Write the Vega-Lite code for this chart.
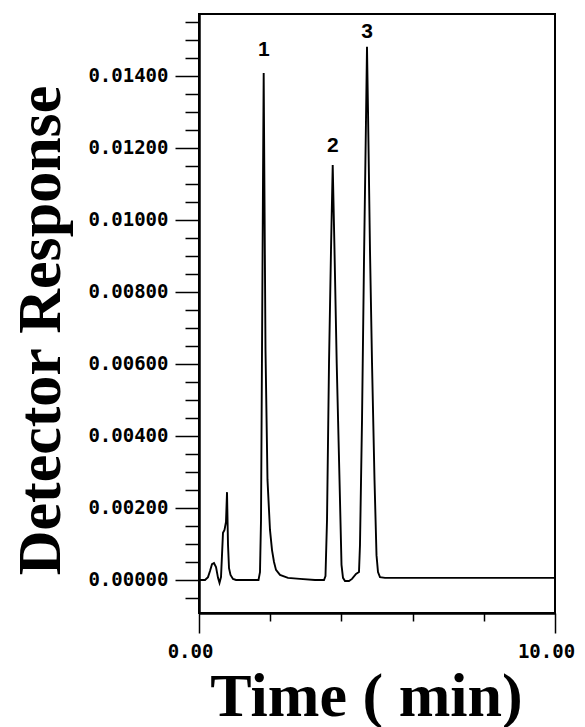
{
  "$schema": "https://vega.github.io/schema/vega-lite/v6.json",
  "autosize": "none",
  "width": 356,
  "height": 599,
  "padding": {"left": 199, "top": 14, "right": 30, "bottom": 114},
  "background": "white",
  "config": {
    "view": {"stroke": "black", "strokeWidth": 2},
    "axis": {"grid": false, "domainColor": "black", "domainWidth": 2, "tickColor": "black", "tickWidth": 1.5, "labelColor": "black", "titleColor": "black"}
  },
  "datasets": {
    "trace": [
      {"t": 0.0, "r": 0.0},
      {"t": 0.169, "r": 0.0},
      {"t": 0.253, "r": 0.00008},
      {"t": 0.309, "r": 0.00025},
      {"t": 0.365, "r": 0.00044},
      {"t": 0.421, "r": 0.00047},
      {"t": 0.478, "r": 0.00036},
      {"t": 0.534, "r": 0.00006},
      {"t": 0.576, "r": -0.00008},
      {"t": 0.618, "r": 0.00008},
      {"t": 0.646, "r": 0.00069},
      {"t": 0.674, "r": 0.00131},
      {"t": 0.716, "r": 0.00139},
      {"t": 0.758, "r": 0.00161},
      {"t": 0.787, "r": 0.00244},
      {"t": 0.815, "r": 0.00097},
      {"t": 0.843, "r": 0.00033},
      {"t": 0.885, "r": 0.00014},
      {"t": 0.955, "r": 0.00003},
      {"t": 1.04, "r": 0.0},
      {"t": 1.671, "r": 0.0},
      {"t": 1.713, "r": 0.00022},
      {"t": 1.742, "r": 0.00167},
      {"t": 1.77, "r": 0.00639},
      {"t": 1.798, "r": 0.01111},
      {"t": 1.817, "r": 0.01408},
      {"t": 1.84, "r": 0.01056},
      {"t": 1.868, "r": 0.00639},
      {"t": 1.924, "r": 0.00278},
      {"t": 1.994, "r": 0.00139},
      {"t": 2.051, "r": 0.00083},
      {"t": 2.107, "r": 0.0005},
      {"t": 2.163, "r": 0.00028},
      {"t": 2.275, "r": 0.00014},
      {"t": 2.5, "r": 0.00006},
      {"t": 2.837, "r": 0.00003},
      {"t": 3.258, "r": 0.0},
      {"t": 3.511, "r": 0.0},
      {"t": 3.553, "r": 0.00011},
      {"t": 3.596, "r": 0.00167},
      {"t": 3.652, "r": 0.00603},
      {"t": 3.708, "r": 0.00917},
      {"t": 3.756, "r": 0.01153},
      {"t": 3.806, "r": 0.00917},
      {"t": 3.868, "r": 0.00603},
      {"t": 3.947, "r": 0.00278},
      {"t": 4.003, "r": 0.00042},
      {"t": 4.045, "r": 0.00006},
      {"t": 4.101, "r": -0.00003},
      {"t": 4.213, "r": -0.00003},
      {"t": 4.298, "r": 0.00003},
      {"t": 4.41, "r": 0.00017},
      {"t": 4.494, "r": 0.00022},
      {"t": 4.522, "r": 0.00097},
      {"t": 4.579, "r": 0.00444},
      {"t": 4.635, "r": 0.00889},
      {"t": 4.691, "r": 0.01278},
      {"t": 4.719, "r": 0.01481},
      {"t": 4.747, "r": 0.01306},
      {"t": 4.803, "r": 0.00917},
      {"t": 4.86, "r": 0.00603},
      {"t": 4.93, "r": 0.00278},
      {"t": 4.986, "r": 0.00069},
      {"t": 5.028, "r": 0.00022},
      {"t": 5.084, "r": 0.00008},
      {"t": 5.225, "r": 0.00006},
      {"t": 10.0, "r": 0.00006}
    ],
    "labels": [
      {"t": 1.82, "r": 0.01472, "label": "1"},
      {"t": 3.76, "r": 0.01206, "label": "2"},
      {"t": 4.72, "r": 0.01522, "label": "3"}
    ]
  },
  "resolve": {"axis": {"x": "independent", "y": "independent"}},
  "layer": [
    {
      "data": {"name": "trace"},
      "mark": {"type": "line", "color": "black", "strokeWidth": 1.9, "clip": true},
      "encoding": {
        "x": {
          "field": "t", "type": "quantitative",
          "scale": {"domain": [0, 10], "nice": false, "zero": false},
          "axis": {
            "orient": "bottom",
            "values": [0, 10],
            "tickSize": 20,
            "format": ".2f",
            "labelFont": "DejaVu Sans Mono", "labelFontSize": 19, "labelFontWeight": "bold",
            "labelPadding": 9, "labelOffset": -9, "labelFlush": false, "labelOverlap": false,
            "title": "Time ( min)",
            "titleFont": "Liberation Serif", "titleFontSize": 62, "titleFontWeight": "bold",
            "titleX": 167, "titleY": 102, "titleBaseline": "alphabetic", "titleAlign": "center"
          }
        },
        "y": {
          "field": "r", "type": "quantitative",
          "scale": {"domain": [-0.000917, 0.015722], "nice": false, "zero": false},
          "axis": {
            "orient": "left",
            "values": [0, 0.002, 0.004, 0.006, 0.008, 0.01, 0.012, 0.014],
            "tickSize": 24,
            "format": ".5f",
            "labelFont": "DejaVu Sans Mono", "labelFontSize": 19, "labelFontWeight": "bold",
            "labelPadding": 7, "labelFlush": false, "labelOverlap": false,
            "title": "Detector Response",
            "titleFont": "Liberation Serif", "titleFontSize": 62, "titleFontWeight": "bold",
            "titleX": -140, "titleY": 316, "titleBaseline": "alphabetic", "titleAlign": "center", "titleAngle": -90
          }
        }
      }
    },
    {
      "data": {"name": "trace"},
      "mark": {"type": "line", "opacity": 0, "clip": true},
      "encoding": {
        "x": {
          "field": "t", "type": "quantitative",
          "scale": {"domain": [0, 10], "nice": false, "zero": false},
          "axis": {"orient": "bottom", "values": [2, 4, 6, 8], "tickSize": 8, "labels": false, "title": null}
        },
        "y": {
          "field": "r", "type": "quantitative",
          "scale": {"domain": [-0.000917, 0.015722], "nice": false, "zero": false},
          "axis": {
            "orient": "left",
            "values": [-0.0005, 0.0005, 0.001, 0.0015, 0.0025, 0.003, 0.0035, 0.0045, 0.005, 0.0055, 0.0065, 0.007, 0.0075, 0.0085, 0.009, 0.0095, 0.0105, 0.011, 0.0115, 0.0125, 0.013, 0.0135, 0.0145, 0.015, 0.0155],
            "tickSize": 14, "labels": false, "title": null
          }
        }
      }
    },
    {
      "data": {"name": "labels"},
      "mark": {"type": "text", "color": "black", "font": "Liberation Sans", "fontSize": 21, "fontWeight": "bold", "baseline": "middle", "align": "center"},
      "encoding": {
        "x": {"field": "t", "type": "quantitative", "scale": {"domain": [0, 10], "nice": false, "zero": false}, "axis": null},
        "y": {"field": "r", "type": "quantitative", "scale": {"domain": [-0.000917, 0.015722], "nice": false, "zero": false}, "axis": null},
        "text": {"field": "label", "type": "nominal"}
      }
    }
  ]
}
